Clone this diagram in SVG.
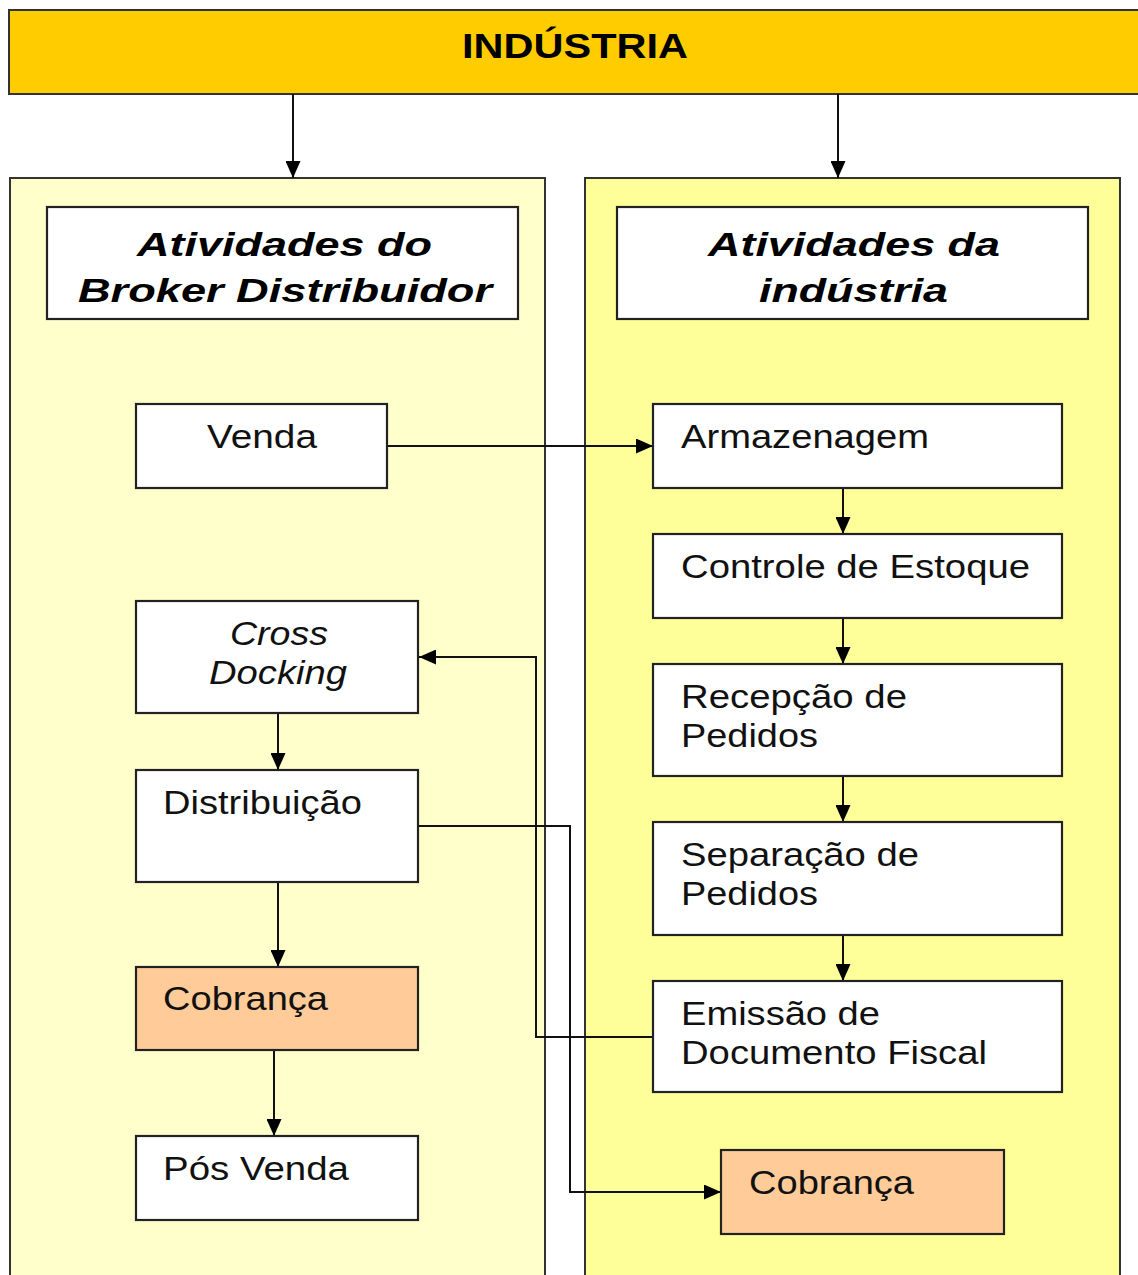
<svg xmlns="http://www.w3.org/2000/svg" width="1138" height="1275" viewBox="0 0 1138 1275">
  <style>
    .box { fill: #ffffff; stroke: #222; stroke-width: 2.2; }
    .orange { fill: #ffcc99; stroke: #222; stroke-width: 2.2; }
    .lbl { font-family: "Liberation Sans", Arial, sans-serif; font-size: 33px; fill: #111; }
    .it { font-style: italic; }
    .hd { font-family: "Liberation Sans", Arial, sans-serif; font-size: 34px; font-weight: bold; font-style: italic; fill: #000; }
    .wire { fill: none; stroke: #111; stroke-width: 2; }
  </style>
  <defs>
    <marker id="arrow" viewBox="0 0 17 15" refX="17" refY="7.5" markerWidth="17" markerHeight="15" markerUnits="userSpaceOnUse" orient="auto">
      <path d="M0,0 L17,7.5 L0,15 Z" fill="#000"/>
    </marker>
  </defs>

  <rect width="1138" height="1275" fill="#ffffff"/>

  <!-- Top bar -->
  <g id="industria">
    <rect x="9" y="10" width="1140" height="84" fill="#ffcc00" stroke="#333" stroke-width="2"/>
    <text x="575" y="58" text-anchor="middle" font-family="'Liberation Sans', Arial, sans-serif" font-size="35" font-weight="bold" textLength="226" lengthAdjust="spacingAndGlyphs" fill="#000">INDÚSTRIA</text>
  </g>

  <!-- Swimlanes -->
  <g id="lane-broker">
    <rect x="10" y="178" width="535" height="1120" fill="#ffffcc" stroke="#333" stroke-width="2"/>
  </g>
  <g id="lane-industria">
    <rect x="585" y="178" width="535" height="1120" fill="#ffff99" stroke="#333" stroke-width="2"/>
  </g>

  <!-- Lane headers -->
  <g id="header-broker">
    <rect class="box" x="47" y="207" width="471" height="112"/>
    <text class="hd" x="137" y="256" textLength="295" lengthAdjust="spacingAndGlyphs">Atividades do</text>
    <text class="hd" x="78" y="302" textLength="414" lengthAdjust="spacingAndGlyphs">Broker Distribuidor</text>
  </g>
  <g id="header-industria">
    <rect class="box" x="617" y="207" width="471" height="112"/>
    <text class="hd" x="708" y="256" textLength="292" lengthAdjust="spacingAndGlyphs">Atividades da</text>
    <text class="hd" x="759" y="302" textLength="189" lengthAdjust="spacingAndGlyphs">indústria</text>
  </g>

  <!-- Connectors -->
  <g id="connectors">
    <line class="wire" x1="293" y1="94" x2="293" y2="178" marker-end="url(#arrow)"/>
    <line class="wire" x1="838" y1="94" x2="838" y2="178" marker-end="url(#arrow)"/>
    <line class="wire" x1="387" y1="446" x2="653" y2="446" marker-end="url(#arrow)"/>
    <line class="wire" x1="843" y1="488" x2="843" y2="534" marker-end="url(#arrow)"/>
    <line class="wire" x1="843" y1="618" x2="843" y2="664" marker-end="url(#arrow)"/>
    <line class="wire" x1="843" y1="776" x2="843" y2="822" marker-end="url(#arrow)"/>
    <line class="wire" x1="843" y1="935" x2="843" y2="981" marker-end="url(#arrow)"/>
    <line class="wire" x1="278" y1="713" x2="278" y2="770" marker-end="url(#arrow)"/>
    <line class="wire" x1="278" y1="882" x2="278" y2="967" marker-end="url(#arrow)"/>
    <line class="wire" x1="274" y1="1050" x2="274" y2="1136" marker-end="url(#arrow)"/>
    <polyline class="wire" points="653,1037 536,1037 536,657 419,657" marker-end="url(#arrow)"/>
    <polyline class="wire" points="418,826 570,826 570,1192 721,1192" marker-end="url(#arrow)"/>
  </g>

  <!-- Broker lane nodes -->
  <g id="venda">
    <rect class="box" x="136" y="404" width="251" height="84"/>
    <text class="lbl" x="207" y="448" textLength="110" lengthAdjust="spacingAndGlyphs">Venda</text>
  </g>
  <g id="cross-docking">
    <rect class="box" x="136" y="601" width="282" height="112"/>
    <text class="lbl it" x="230" y="645" textLength="98" lengthAdjust="spacingAndGlyphs">Cross</text>
    <text class="lbl it" x="209" y="684" textLength="138" lengthAdjust="spacingAndGlyphs">Docking</text>
  </g>
  <g id="distribuicao">
    <rect class="box" x="136" y="770" width="282" height="112"/>
    <text class="lbl" x="163" y="814" textLength="199" lengthAdjust="spacingAndGlyphs">Distribuição</text>
  </g>
  <g id="cobranca-broker">
    <rect class="orange" x="136" y="967" width="282" height="83"/>
    <text class="lbl" x="163" y="1010" textLength="165" lengthAdjust="spacingAndGlyphs">Cobrança</text>
  </g>
  <g id="pos-venda">
    <rect class="box" x="136" y="1136" width="282" height="84"/>
    <text class="lbl" x="163" y="1180" textLength="186" lengthAdjust="spacingAndGlyphs">Pós Venda</text>
  </g>

  <!-- Industry lane nodes -->
  <g id="armazenagem">
    <rect class="box" x="653" y="404" width="409" height="84"/>
    <text class="lbl" x="681" y="448" textLength="248" lengthAdjust="spacingAndGlyphs">Armazenagem</text>
  </g>
  <g id="controle-estoque">
    <rect class="box" x="653" y="534" width="409" height="84"/>
    <text class="lbl" x="681" y="578" textLength="349" lengthAdjust="spacingAndGlyphs">Controle de Estoque</text>
  </g>
  <g id="recepcao-pedidos">
    <rect class="box" x="653" y="664" width="409" height="112"/>
    <text class="lbl" x="681" y="708" textLength="226" lengthAdjust="spacingAndGlyphs">Recepção de</text>
    <text class="lbl" x="681" y="747" textLength="137" lengthAdjust="spacingAndGlyphs">Pedidos</text>
  </g>
  <g id="separacao-pedidos">
    <rect class="box" x="653" y="822" width="409" height="113"/>
    <text class="lbl" x="681" y="866" textLength="238" lengthAdjust="spacingAndGlyphs">Separação de</text>
    <text class="lbl" x="681" y="905" textLength="137" lengthAdjust="spacingAndGlyphs">Pedidos</text>
  </g>
  <g id="emissao-documento">
    <rect class="box" x="653" y="981" width="409" height="111"/>
    <text class="lbl" x="681" y="1025" textLength="199" lengthAdjust="spacingAndGlyphs">Emissão de</text>
    <text class="lbl" x="681" y="1064" textLength="306" lengthAdjust="spacingAndGlyphs">Documento Fiscal</text>
  </g>
  <g id="cobranca-industria">
    <rect class="orange" x="721" y="1150" width="283" height="84"/>
    <text class="lbl" x="749" y="1194" textLength="165" lengthAdjust="spacingAndGlyphs">Cobrança</text>
  </g>
</svg>
